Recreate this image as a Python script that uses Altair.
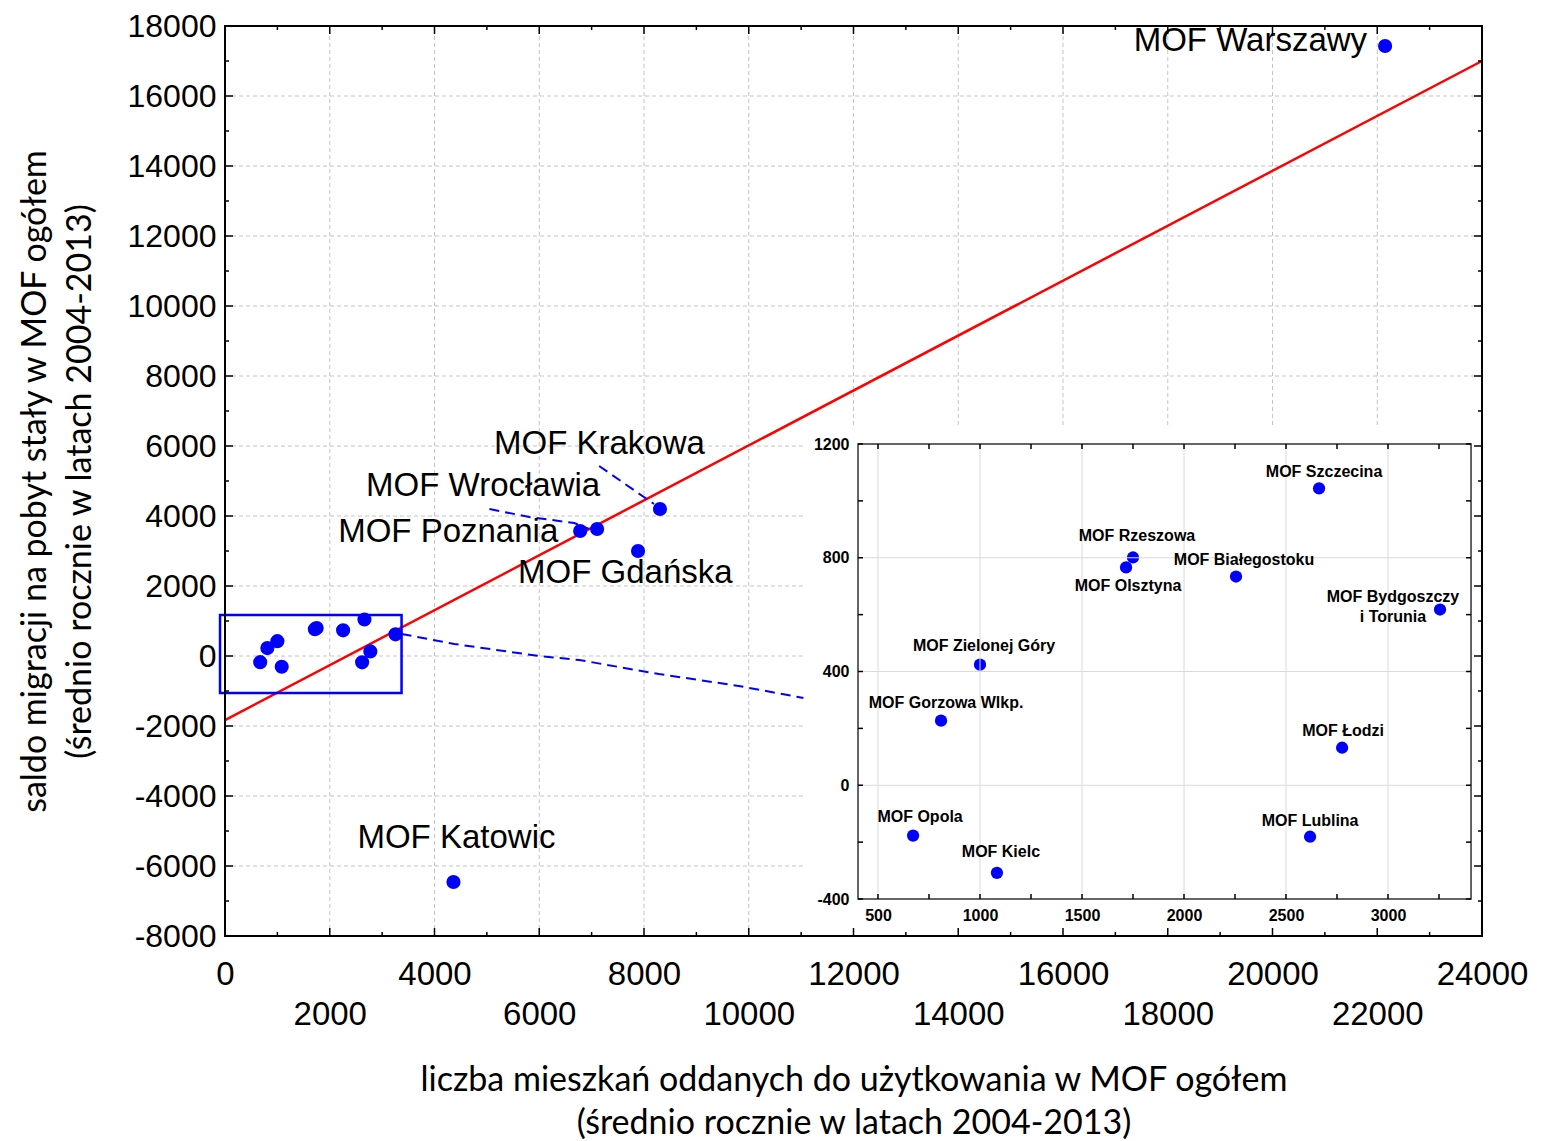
import altair as alt
import pandas as pd

# ---------------- data ----------------
names = ["MOF Warszawy", "MOF Krakowa", "MOF Wrocławia", "MOF Poznania", "MOF Gdańska",
         "MOF Katowic", "MOF Szczecina", "MOF Rzeszowa", "MOF Olsztyna", "MOF Białegostoku",
         "MOF Bydgoszczy\ni Torunia", "MOF Zielonej Góry", "MOF Gorzowa Wlkp.", "MOF Łodzi",
         "MOF Opola", "MOF Lublina", "MOF Kielc"]
dwellings = [22150, 8305, 7105, 6781, 7886, 4362, 2662, 1750, 1716, 2255, 3255,
             1000, 809, 2775, 672, 2618, 1083]
migration = [17430, 4200, 3629, 3571, 3000, -6457, 1044, 801, 766, 734, 618,
             424, 227, 132, -177, -181, -308]
in_inset = [False] * 6 + [True] * 11

trend_x = [0, 24000]
trend_y = [-1830, 17000]

zoom_box_x = [-95, 3371]
zoom_box_y = [-1057, 1171]
zoom_link_x = [3371, 4381, 6000, 6762, 8286, 9810, 11048]
zoom_link_y = [629, 343, 0, -114, -514, -857, -1200]
krakow_lead_x = [7143, 8190]
krakow_lead_y = [5429, 4343]
wroclaw_lead_x = [5048, 5810, 6667, 6952]
wroclaw_lead_y = [4200, 3971, 3800, 3629]

x_major = [0, 2000, 4000, 6000, 8000, 10000, 12000, 14000, 16000, 18000, 20000, 22000, 24000]
x_minor = [1000, 3000, 5000, 7000, 9000, 11000, 13000, 15000, 17000, 19000, 21000, 23000]
y_major = [-8000, -6000, -4000, -2000, 0, 2000, 4000, 6000, 8000, 10000, 12000, 14000, 16000, 18000]
y_minor = [-7000, -5000, -3000, -1000, 1000, 3000, 5000, 7000, 9000, 11000, 13000, 15000, 17000]
x_grid = x_major[1:-1]
y_grid = y_major[1:-1]

inset_x_major = [500, 1000, 1500, 2000, 2500, 3000]
inset_x_minor = [750, 1250, 1750, 2250, 2750, 3250]
inset_y_major = [-400, 0, 400, 800, 1200]
inset_y_minor = [-200, 200, 600, 1000]

x_title = ["liczba mieszkań oddanych do użytkowania w MOF ogółem",
           "(średnio rocznie w latach 2004-2013)"]
y_title = ["saldo migracji na pobyt stały w MOF ogółem",
           "(średnio rocznie w latach 2004-2013)"]

# ---------------- layout / style ----------------
W, H = 1257, 910
X_DOM = [0, 24000]
Y_DOM = [-8000, 18000]
INSET_X_DOM = [500, 3000]
INSET_X_RANGE = [653, 1163]
INSET_Y_DOM = [-400, 1200]
INSET_Y_RANGE = [873, 418]
INSET_FRAME_X = [402, 3407]
INSET_FRAME_Y = [-400, 1200]
INSET_BG_X = [11048, 24000]
INSET_BG_Y = [-8000, 6571]

BLUE = "#0000ff"
RED = "#ff0000"
TICK_FONT = "Liberation Sans"
TITLE_FONT = "Lato"

main_label_style = {
    "MOF Warszawy": dict(align="right", dx=-18, dy=-5),
    "MOF Krakowa": dict(align="left", dx=-166, dy=-65),
    "MOF Wrocławia": dict(align="left", dx=-231, dy=-43),
    "MOF Poznania": dict(align="left", dx=-242, dy=1),
    "MOF Gdańska": dict(align="left", dx=-120, dy=22),
    "MOF Katowic": dict(align="left", dx=-96, dy=-44),
}
inset_label_style = {
    "MOF Szczecina": (5, -16),
    "MOF Rzeszowa": (4, -21),
    "MOF Olsztyna": (2, 19),
    "MOF Białegostoku": (8, -17),
    "MOF Bydgoszczy\ni Torunia": (-47, -13),
    "MOF Zielonej Góry": (4, -19),
    "MOF Gorzowa Wlkp.": (5, -18),
    "MOF Łodzi": (1, -17),
    "MOF Opola": (7, -19),
    "MOF Lublina": (0, -16),
    "MOF Kielc": (4, -21),
}

ms_x = alt.Scale(domain=X_DOM, nice=False, zero=False)
ms_y = alt.Scale(domain=Y_DOM, nice=False, zero=False)
is_x = alt.Scale(domain=INSET_X_DOM, range=INSET_X_RANGE, nice=False, zero=False)
is_y = alt.Scale(domain=INSET_Y_DOM, range=INSET_Y_RANGE, nice=False, zero=False)


def _chan(cls, f, scale, axis):
    if axis is None:
        return cls(f"{f}:Q", scale=scale)
    return cls(f"{f}:Q", scale=scale, axis=axis)


def MX(f="x", axis=None):
    return _chan(alt.X, f, ms_x, axis)


def MY(f="y", axis=None):
    return _chan(alt.Y, f, ms_y, axis)


def IX(f="x", axis=None):
    return _chan(alt.X, f, is_x, axis)


def IY(f="y", axis=None):
    return _chan(alt.Y, f, is_y, axis)


pts = pd.DataFrame({"x": dwellings, "y": migration, "name": names, "inset": in_inset})
inset_pts = pts[pts["inset"]].reset_index(drop=True)

axis_x_main = alt.Axis(
    values=x_major,
    labelExpr="datum.value % 4000 == 0 ? '' + datum.value : [' ', '' + datum.value]",
    grid=False, ticks=False, tickSize=0, domain=False,
    labelFont=TICK_FONT, labelFontSize=33, labelColor="black", labelPadding=22,
    labelBaseline="top", labelLineHeight=40, labelFlush=False, labelOverlap=False,
    title=x_title, titleFont=TITLE_FONT, titleFontSize=34, titleFontWeight="normal",
    titleColor="black", titlePadding=32, titleLineHeight=43,
)
axis_y_main = alt.Axis(
    values=y_major, labelExpr="'' + datum.value",
    grid=False, ticks=False, tickSize=0, domain=False,
    labelFont=TICK_FONT, labelFontSize=32, labelColor="black", labelPadding=9,
    labelFlush=False, labelOverlap=False,
    title=y_title, titleFont=TITLE_FONT, titleFontSize=34, titleFontWeight="normal",
    titleColor="black", titlePadding=30, titleLineHeight=45,
)
axis_x_inset = alt.Axis(
    orient="bottom", offset=-37, values=inset_x_major, labelExpr="'' + datum.value",
    grid=False, ticks=False, tickSize=0, domain=False,
    labelFont=TICK_FONT, labelFontSize=16, labelFontWeight="bold", labelColor="black",
    labelPadding=8, labelFlush=False, labelOverlap=False, title="", zindex=1,
)
axis_y_inset = alt.Axis(
    orient="left", offset=-633, values=inset_y_major, labelExpr="'' + datum.value",
    grid=False, ticks=False, tickSize=0, domain=False,
    labelFont=TICK_FONT, labelFontSize=16, labelFontWeight="bold", labelColor="black",
    labelPadding=9, labelFlush=False, labelOverlap=False, title="", zindex=1,
)

# ---------------- main panel ----------------
main_points = alt.Chart(pts).mark_circle(size=200, color=BLUE, opacity=1).encode(
    x=MX(axis=axis_x_main), y=MY(axis=axis_y_main))

grid_v = alt.Chart(pd.DataFrame({"x": x_grid, "y": Y_DOM[0], "y2": Y_DOM[1]})).mark_rule(
    color="#c4c4c4", strokeDash=[4, 3], strokeWidth=1).encode(x=MX(), y=MY(), y2="y2:Q")
grid_h = alt.Chart(pd.DataFrame({"y": y_grid, "x": X_DOM[0], "x2": X_DOM[1]})).mark_rule(
    color="#c4c4c4", strokeDash=[4, 3], strokeWidth=1).encode(x=MX(), x2="x2:Q", y=MY())

trend = alt.Chart(pd.DataFrame({"x": trend_x, "y": trend_y})).mark_line(
    color=RED, strokeWidth=2.5).encode(x=MX(), y=MY())

box = alt.Chart(pd.DataFrame({"x": [zoom_box_x[0]], "x2": [zoom_box_x[1]],
                              "y": [zoom_box_y[0]], "y2": [zoom_box_y[1]]})).mark_rect(
    fillOpacity=0, stroke=BLUE, strokeWidth=2.5).encode(x=MX(), x2="x2:Q", y=MY(), y2="y2:Q")


def dashed(xs, ys, dash):
    d = pd.DataFrame({"x": xs, "y": ys, "o": list(range(len(xs)))})
    return alt.Chart(d).mark_line(color=BLUE, strokeDash=dash, strokeWidth=2).encode(
        x=MX(), y=MY(), order="o:Q")


link = dashed(zoom_link_x, zoom_link_y, [10, 6])
lead_k = dashed(krakow_lead_x, krakow_lead_y, [10, 6])
lead_w = dashed(wroclaw_lead_x, wroclaw_lead_y, [10, 6])

main_labels = []
for nm, st in main_label_style.items():
    i = names.index(nm)
    d = pd.DataFrame({"x": [dwellings[i]], "y": [migration[i]], "label": [nm]})
    main_labels.append(alt.Chart(d).mark_text(
        font=TICK_FONT, fontSize=33, color="black", baseline="middle",
        align=st["align"], dx=st["dx"], dy=st["dy"]).encode(x=MX(), y=MY(), text="label:N"))

inset_bg = alt.Chart(pd.DataFrame({"x": [INSET_BG_X[0]], "x2": [INSET_BG_X[1]],
                                   "y": [INSET_BG_Y[0]], "y2": [INSET_BG_Y[1]]})).mark_rect(
    color="white", opacity=1).encode(x=MX(), x2="x2:Q", y=MY(), y2="y2:Q")


def tick_layer(vals, fixed, vertical, size, off, sx, sy):
    if vertical:
        d = pd.DataFrame({"x": vals, "y": fixed})
        return alt.Chart(d).mark_tick(orient="vertical", size=size, thickness=1.5,
                                      yOffset=off, color="black", opacity=1).encode(
            x=sx(), y=sy())
    d = pd.DataFrame({"y": vals, "x": fixed})
    return alt.Chart(d).mark_tick(orient="horizontal", size=size, thickness=1.5,
                                  xOffset=off, color="black", opacity=1).encode(
        x=sx(), y=sy())


main_ticks = [
    tick_layer(x_major, Y_DOM[0], True, 8, -4, MX, MY),
    tick_layer(x_minor, Y_DOM[0], True, 4, -2, MX, MY),
    tick_layer(x_major, Y_DOM[1], True, 8, 4, MX, MY),
    tick_layer(x_minor, Y_DOM[1], True, 4, 2, MX, MY),
    tick_layer(y_major, X_DOM[0], False, 8, 4, MX, MY),
    tick_layer(y_minor, X_DOM[0], False, 4, 2, MX, MY),
    tick_layer(y_major, X_DOM[1], False, 8, -4, MX, MY),
    tick_layer(y_minor, X_DOM[1], False, 4, -2, MX, MY),
]

frame = alt.Chart(pd.DataFrame({"x": [X_DOM[0]], "x2": [X_DOM[1]],
                                "y": [Y_DOM[0]], "y2": [Y_DOM[1]]})).mark_rect(
    fillOpacity=0, stroke="black", strokeWidth=2).encode(x=MX(), x2="x2:Q", y=MY(), y2="y2:Q")

main = alt.layer(grid_v, grid_h, trend, box, link, lead_k, lead_w, main_points,
                 *main_labels, inset_bg, *main_ticks, frame)

# ---------------- inset panel ----------------
inset_points = alt.Chart(inset_pts).mark_circle(size=150, color=BLUE, opacity=1).encode(
    x=IX(axis=axis_x_inset), y=IY(axis=axis_y_inset))

igrid_v = alt.Chart(pd.DataFrame({"x": inset_x_major, "y": INSET_FRAME_Y[0],
                                  "y2": INSET_FRAME_Y[1]})).mark_rule(
    color="#dadada", strokeWidth=1).encode(x=IX(), y=IY(), y2="y2:Q")
igrid_h = alt.Chart(pd.DataFrame({"y": inset_y_major[1:-1], "x": INSET_FRAME_X[0],
                                  "x2": INSET_FRAME_X[1]})).mark_rule(
    color="#dadada", strokeWidth=1).encode(x=IX(), x2="x2:Q", y=IY())
iframe = alt.Chart(pd.DataFrame({"x": [INSET_FRAME_X[0]], "x2": [INSET_FRAME_X[1]],
                                 "y": [INSET_FRAME_Y[0]], "y2": [INSET_FRAME_Y[1]]})).mark_rect(
    fillOpacity=0, stroke="#333333", strokeWidth=1.5).encode(x=IX(), x2="x2:Q", y=IY(), y2="y2:Q")

inset_labels = []
for nm, (ddx, ddy) in inset_label_style.items():
    i = names.index(nm)
    d = pd.DataFrame({"x": [dwellings[i]], "y": [migration[i]], "label": [nm]})
    inset_labels.append(alt.Chart(d).mark_text(
        font=TICK_FONT, fontSize=16, fontWeight="bold", color="black", baseline="middle",
        align="center", lineBreak="\n", lineHeight=20, dx=ddx, dy=ddy).encode(
        x=IX(), y=IY(), text="label:N"))

inset_ticks = [
    tick_layer(inset_x_major + inset_x_minor, INSET_FRAME_Y[0], True, 5, -2.5, IX, IY),
    tick_layer(inset_x_major + inset_x_minor, INSET_FRAME_Y[1], True, 5, 2.5, IX, IY),
    tick_layer(inset_y_major + inset_y_minor, INSET_FRAME_X[0], False, 5, 2.5, IX, IY),
    tick_layer(inset_y_major + inset_y_minor, INSET_FRAME_X[1], False, 5, -2.5, IX, IY),
]

inset = alt.layer(inset_points, igrid_v, igrid_h, iframe, *inset_labels, *inset_ticks)

chart = alt.layer(main, inset).resolve_scale(
    x="independent", y="independent"
).properties(
    width=W, height=H,
    autosize=alt.AutoSizeParams(type="none"),
    padding={"left": 217, "top": 18, "right": 50, "bottom": 205},
).configure_view(strokeWidth=0)

chart.save("out.html", embed_options={"renderer": "svg", "actions": False})
